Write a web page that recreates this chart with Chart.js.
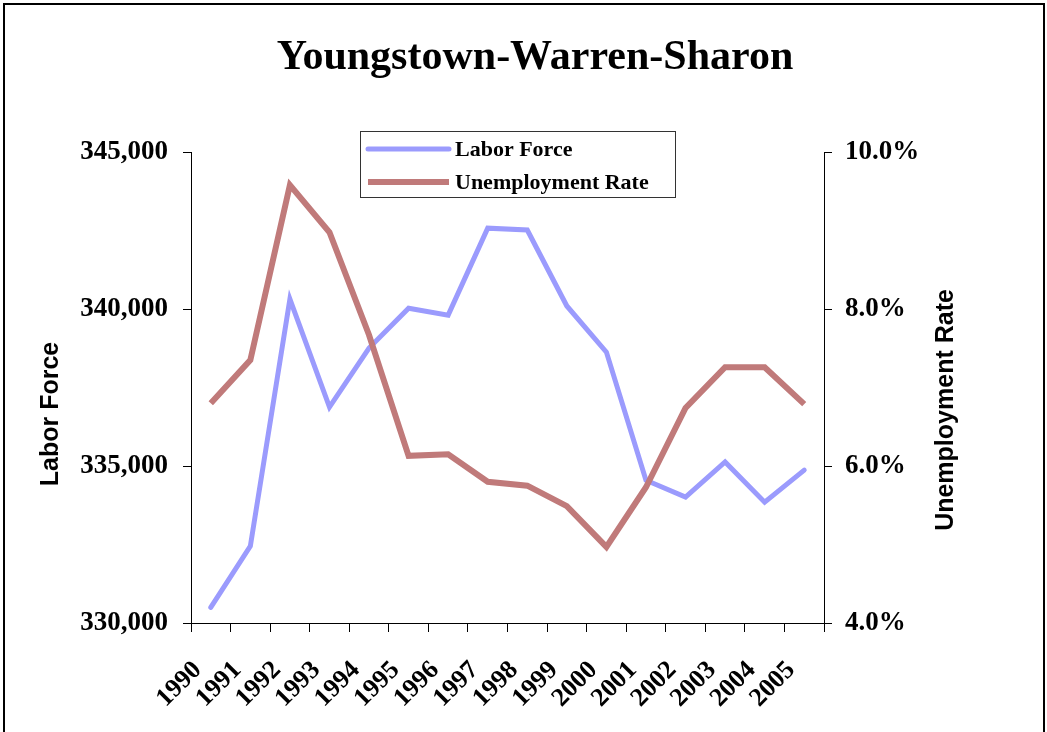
<!DOCTYPE html>
<html>
<head>
<meta charset="utf-8">
<script src="https://cdn.jsdelivr.net/npm/chart.js@4"></script>
<style>
  html, body { margin: 0; padding: 0; background: #fff; }
  canvas { display: block; }
</style>
</head>
<body>
<canvas id="chart" width="1047" height="732"></canvas>
<script>
// Data
const years = ['1990', '1991', '1992', '1993', '1994', '1995', '1996', '1997',
               '1998', '1999', '2000', '2001', '2002', '2003', '2004', '2005'];
const laborForce = [330500, 332450, 340320, 336880, 338760, 340030, 339810, 342580,
                    342520, 340100, 338630, 334550, 334010, 335130, 333850, 334870];
const unemploymentRate = [6.80, 7.35, 9.58, 8.98, 7.67, 6.13, 6.15, 5.80,
                          5.75, 5.49, 4.97, 5.73, 6.74, 7.26, 7.26, 6.79];
const leftTicks = [330000, 335000, 340000, 345000];
const rightTicks = [4, 6, 8, 10];

const serif = "'Liberation Serif', 'Times New Roman', serif";
const sans = "'Liberation Sans', Arial, sans-serif";

// white background + outer frame
const frame = {
    id: 'frame',
    beforeDraw(chart) {
        const ctx = chart.ctx;
        ctx.save();
        ctx.fillStyle = '#fff';
        ctx.fillRect(0, 0, chart.width, chart.height);
        ctx.strokeStyle = '#000';
        ctx.lineWidth = 2;
        ctx.strokeRect(4, 4, chart.width - 7, chart.height + 20);
        ctx.restore();
    }
};

// chart title drawn a little right of centre, like the original
const mainTitle = {
    id: 'mainTitle',
    afterDraw(chart) {
        const ctx = chart.ctx;
        ctx.save();
        ctx.fillStyle = '#000';
        ctx.font = 'bold 42px ' + serif;
        ctx.textAlign = 'center';
        ctx.textBaseline = 'middle';
        ctx.fillText('Youngstown-Warren-Sharon', 535, 58);
        ctx.restore();
    }
};

// axis titles, both reading bottom to top
const axisTitles = {
    id: 'axisTitles',
    afterDraw(chart) {
        const ctx = chart.ctx;
        ctx.save();
        ctx.fillStyle = '#000';
        ctx.font = 'bold 25px ' + sans;
        ctx.textAlign = 'center';
        ctx.textBaseline = 'middle';
        [['Labor Force', 51, 414], ['Unemployment Rate', 946, 410]].forEach(function(t) {
            ctx.save();
            ctx.translate(t[1], t[2]);
            ctx.rotate(-Math.PI / 2);
            ctx.fillText(t[0], 0, 0);
            ctx.restore();
        });
        ctx.restore();
    }
};

// boxed legend sitting over the top of the plot
const boxLegend = {
    id: 'boxLegend',
    afterDraw(chart) {
        const ctx = chart.ctx;
        const items = [chart.data.datasets[0], chart.data.datasets[1]];
        ctx.save();
        ctx.fillStyle = '#fff';
        ctx.fillRect(360, 131, 315, 66);
        ctx.strokeStyle = '#333';
        ctx.lineWidth = 1;
        ctx.strokeRect(360.5, 131.5, 315, 66);
        ctx.font = 'bold 22px ' + serif;
        ctx.textBaseline = 'middle';
        items.forEach(function(ds, i) {
            const y = 149 + i * 33;
            ctx.strokeStyle = ds.borderColor;
            ctx.lineWidth = ds.borderWidth;
            ctx.lineCap = i === 0 ? 'round' : 'butt';
            ctx.beginPath();
            ctx.moveTo(368, y);
            ctx.lineTo(449, y);
            ctx.stroke();
            ctx.fillStyle = '#000';
            ctx.fillText(ds.label, 455, y + 1);
        });
        ctx.restore();
    }
};

const ctx = document.getElementById('chart').getContext('2d');

const myChart = new Chart(ctx, {
    type: 'line',
    data: {
        labels: years,
        datasets: [{
            label: 'Labor Force',
            data: laborForce,
            yAxisID: 'y',
            borderColor: '#9b9bfd',
            borderWidth: 5,
            borderCapStyle: 'round',
            pointRadius: 0,
            tension: 0,
            order: 1
        }, {
            label: 'Unemployment Rate',
            data: unemploymentRate,
            yAxisID: 'y1',
            borderColor: '#c07a7a',
            borderWidth: 6,
            pointRadius: 0,
            tension: 0,
            order: 0
        }]
    },
    options: {
        responsive: false,
        animation: false,
        layout: { padding: 0 },
        plugins: {
            legend: { display: false },
            tooltip: { enabled: false },
            // keeps the space above the plot; the text itself is drawn by mainTitle
            title: {
                display: true,
                text: ' ',
                font: { family: serif, size: 41, weight: 'bold' },
                padding: { top: 33, bottom: 70 }
            }
        },
        scales: {
            x: {
                offset: true,
                afterFit: function(s) { s.height = 109; },
                grid: {
                    offset: true,
                    drawOnChartArea: false,
                    drawTicks: true,
                    tickLength: 9,
                    color: '#000'
                },
                border: { display: true, color: '#000', width: 1 },
                ticks: {
                    color: '#000',
                    font: { family: serif, size: 26, weight: 'bold' },
                    minRotation: 45,
                    maxRotation: 45,
                    autoSkip: false,
                    labelOffset: -13,
                    padding: 23
                }
            },
            y: {
                position: 'left',
                min: leftTicks[0],
                max: leftTicks[leftTicks.length - 1],
                afterFit: function(s) { s.width = 191; },
                afterBuildTicks: function(s) { s.ticks = leftTicks.map(function(v) { return { value: v }; }); },
                grid: {
                    drawOnChartArea: false,
                    tickLength: 8,
                    color: '#000'
                },
                border: { display: true, color: '#000', width: 1 },
                ticks: {
                    color: '#000',
                    padding: 15,
                    font: { family: serif, size: 27, weight: 'bold' },
                    callback: function(v) { return v.toLocaleString('en-US'); }
                }
            },
            y1: {
                position: 'right',
                min: rightTicks[0],
                max: rightTicks[rightTicks.length - 1],
                afterFit: function(s) { s.width = 223; },
                afterBuildTicks: function(s) { s.ticks = rightTicks.map(function(v) { return { value: v }; }); },
                grid: {
                    drawOnChartArea: false,
                    tickLength: 8,
                    color: '#000'
                },
                border: { display: true, color: '#000', width: 1 },
                ticks: {
                    color: '#000',
                    padding: 13,
                    font: { family: serif, size: 27, weight: 'bold' },
                    callback: function(v) { return v.toFixed(1) + '%'; }
                }
            }
        }
    },
    plugins: [frame, mainTitle, axisTitles, boxLegend]
});
</script>
</body>
</html>
